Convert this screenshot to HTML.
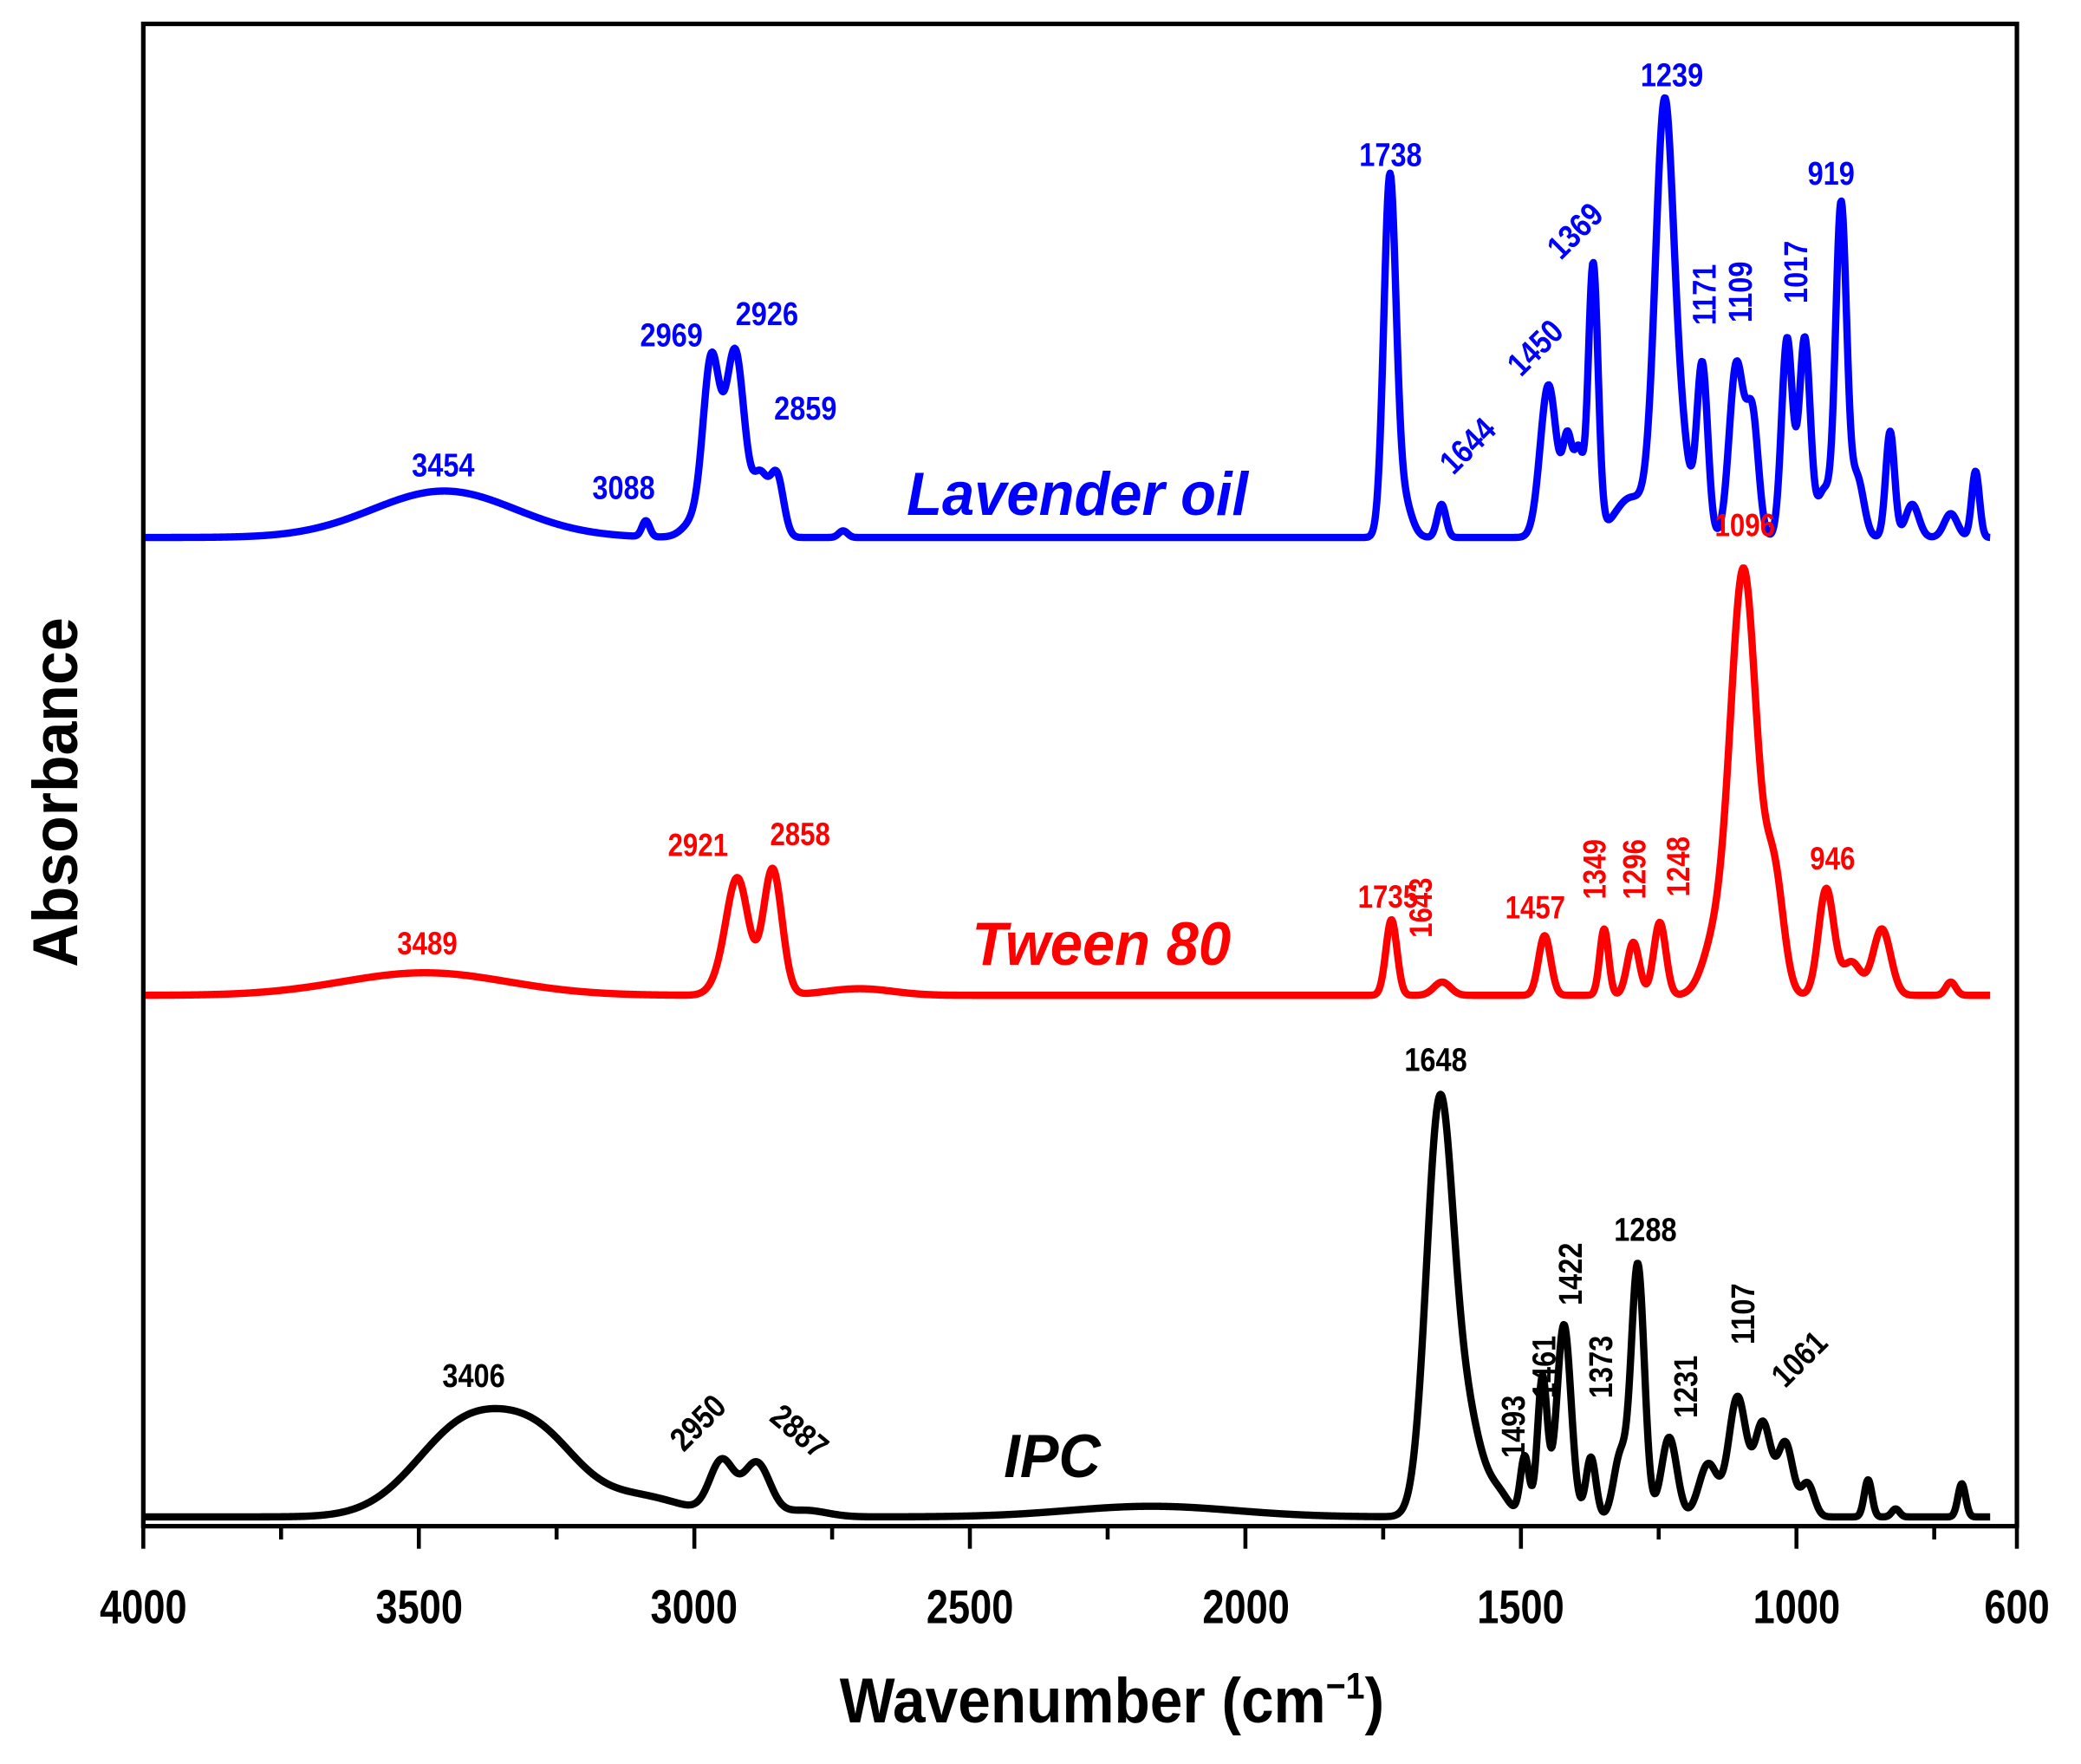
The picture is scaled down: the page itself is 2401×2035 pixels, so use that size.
<!DOCTYPE html>
<html><head><meta charset="utf-8">
<style>
html,body{margin:0;padding:0;background:#fff;}
svg{display:block;}
text{font-family:"Liberation Sans",Arial,sans-serif;font-weight:bold;}
</style></head>
<body>
<svg id="s" width="2401" height="2035" viewBox="0 0 1568.3 1329.2" preserveAspectRatio="none" xmlns="http://www.w3.org/2000/svg">
<rect x="0" y="0" width="1568.3" height="1329.2" fill="#fff"/>
<g id="curves"></g>
<rect x="108" y="18" width="1412" height="1132" fill="none" stroke="#000" stroke-width="3.4"/>
<g id="ticks" stroke="#000" stroke-width="3"></g>
<g font-size="36" text-anchor="middle" fill="#000">
<text transform="translate(108,1223) scale(0.82,1)">4000</text>
<text transform="translate(316,1223) scale(0.82,1)">3500</text>
<text transform="translate(523,1223) scale(0.82,1)">3000</text>
<text transform="translate(731,1223) scale(0.82,1)">2500</text>
<text transform="translate(939,1223) scale(0.82,1)">2000</text>
<text transform="translate(1146,1223) scale(0.82,1)">1500</text>
<text transform="translate(1354,1223) scale(0.82,1)">1000</text>
<text transform="translate(1520,1223) scale(0.82,1)">600</text>
</g>
<text transform="translate(838,1298) scale(0.92,1)" font-size="48" text-anchor="middle">Wavenumber (cm<tspan dy="-18" font-size="28">−1</tspan><tspan dy="18">)</tspan></text>
<text transform="translate(58,597) rotate(-90) scale(0.95,1)" font-size="48" text-anchor="middle">Absorbance</text>

<g fill="#0000ff" font-size="25" text-anchor="middle">
<text transform="translate(334,359) scale(0.85,1)">3454</text>
<text transform="translate(470,376) scale(0.85,1)">3088</text>
<text transform="translate(506,261) scale(0.85,1)">2969</text>
<text transform="translate(578,245) scale(0.85,1)">2926</text>
<text transform="translate(607,316) scale(0.85,1)">2859</text>
<text transform="translate(1048,125) scale(0.85,1)">1738</text>
<text transform="translate(1260,65) scale(0.85,1)">1239</text>
<text transform="translate(1380,139) scale(0.85,1)">919</text>
<text transform="translate(1112,342) rotate(-45) scale(0.85,1)">1644</text>
<text transform="translate(1163,268) rotate(-45) scale(0.85,1)">1450</text>
<text transform="translate(1193,180) rotate(-45) scale(0.85,1)">1369</text>
<text transform="translate(1293,222) rotate(-90) scale(0.85,1)">1171</text>
<text transform="translate(1320,220) rotate(-90) scale(0.85,1)">1109</text>
<text transform="translate(1362,205) rotate(-90) scale(0.85,1)">1017</text>
<text transform="translate(812,388) scale(0.95,1)" font-size="46" font-style="italic">Lavender oil</text>
</g>
<g fill="#ff0000" font-size="24" text-anchor="middle">
<text transform="translate(322,719) scale(0.85,1)">3489</text>
<text transform="translate(526,645) scale(0.85,1)">2921</text>
<text transform="translate(603,637) scale(0.85,1)">2858</text>
<text transform="translate(1046,684) scale(0.85,1)">1735</text>
<text transform="translate(1157,692) scale(0.85,1)">1457</text>
<text transform="translate(1315,404) scale(0.85,1)">1096</text>
<text transform="translate(1381,655) scale(0.85,1)">946</text>
<text transform="translate(1079,684) rotate(-90) scale(0.85,1)">1643</text>
<text transform="translate(1210,655) rotate(-90) scale(0.85,1)">1349</text>
<text transform="translate(1240,655) rotate(-90) scale(0.85,1)">1296</text>
<text transform="translate(1273,653) rotate(-90) scale(0.85,1)">1248</text>
<text transform="translate(830,727) scale(0.95,1)" font-size="46" font-style="italic">Tween 80</text>
</g>
<g fill="#000" font-size="25" text-anchor="middle">
<text transform="translate(1082,807) scale(0.85,1)">1648</text>
<text transform="translate(357,1045) scale(0.85,1)">3406</text>
<text transform="translate(1240,935) scale(0.85,1)">1288</text>
<text transform="translate(532,1078) rotate(-45) scale(0.85,1)">2950</text>
<text transform="translate(597,1085) rotate(40) scale(0.85,1)">2887</text>
<text transform="translate(1149,1075) rotate(-90) scale(0.85,1)">1493</text>
<text transform="translate(1172,1030) rotate(-90) scale(0.85,1)">1461</text>
<text transform="translate(1192,960) rotate(-90) scale(0.85,1)">1422</text>
<text transform="translate(1215,1030) rotate(-90) scale(0.85,1)">1373</text>
<text transform="translate(1279,1045) rotate(-90) scale(0.85,1)">1231</text>
<text transform="translate(1322,990) rotate(-90) scale(0.85,1)">1107</text>
<text transform="translate(1362,1030) rotate(-45) scale(0.85,1)">1061</text>
<text transform="translate(793,1113) scale(0.95,1)" font-size="46" font-style="italic">IPC</text>
</g>
</svg>
<script>
(function(){
var NS="http://www.w3.org/2000/svg";
function X(w){return 108+(4000-w)*0.41529;}
function curve(base,peaks,color){
  var d="";
  for(var w=3998;w>=648;w-=1.5){
    var y=base;
    for(var i=0;i<peaks.length;i++){var p=peaks[i];var t=(w-p[0])/p[2];y-=p[1]*Math.exp(-0.5*t*t);}
    d+=(d?"L":"M")+X(w).toFixed(2)+" "+y.toFixed(2);
  }
  var e=document.createElementNS(NS,"path");
  e.setAttribute("d",d);e.setAttribute("fill","none");e.setAttribute("stroke",color);
  e.setAttribute("stroke-width","5.5");e.setAttribute("stroke-linejoin","round");
  document.getElementById("curves").appendChild(e);
}
curve(405,[[3454,35,130],[3088,12,7],[3000,12,20],[2969,130,15],[2926,140,17],[2880,45,14],[2850,45,12],[2730,5,8],[1738,265,11],[1715,30,15],[1644,25,8],[1450,115,15],[1415,70,9],[1395,60,8],[1369,205,9],[1300,30,30],[1239,325,17],[1205,50,14],[1171,130,10],[1109,130,13],[1080,90,11],[1017,150,10],[985,150,10],[950,35,12],[919,250,10],[890,45,12],[830,80,8],[790,25,12],[720,18,12],[675,50,7]],"#0000ff");
curve(750,[[3489,17,150],[2921,85,20],[2858,95,17],[2950,10,20],[2700,5,60],[1735,57,10],[1643,10,15],[1457,45,11],[1349,50,8],[1296,40,11],[1248,55,11],[1150,35,22],[1096,320,24],[1040,85,17],[946,80,14],[900,25,17],[845,50,16],[720,10,9]],"#ff0000");
curve(1143,[[3406,72,95],[3270,40,70],[3100,15,80],[2950,40,22],[2887,40,24],[2800,5,40],[2170,8,150],[1648,300,24],[1600,75,28],[1540,15,20],[1493,45,8],[1461,105,9],[1422,145,13],[1373,45,9],[1320,45,12],[1288,190,12],[1231,60,14],[1160,40,17],[1107,90,16],[1061,70,15],[1020,55,14],[980,25,12],[870,28,7],[820,6,7],[700,25,7]],"#000000");
var g=document.getElementById("ticks");
for(var w=4000;w>=600;w-=250){
  var l=document.createElementNS(NS,"line");var major=(w%500===0);
  l.setAttribute("x1",X(w));l.setAttribute("x2",X(w));l.setAttribute("y1",1150);l.setAttribute("y2",major?1167:1160);
  g.appendChild(l);
}
var l=document.createElementNS(NS,"line");l.setAttribute("x1",X(600));l.setAttribute("x2",X(600));l.setAttribute("y1",1150);l.setAttribute("y2",1167);g.appendChild(l);
})();
</script>
</body></html>
